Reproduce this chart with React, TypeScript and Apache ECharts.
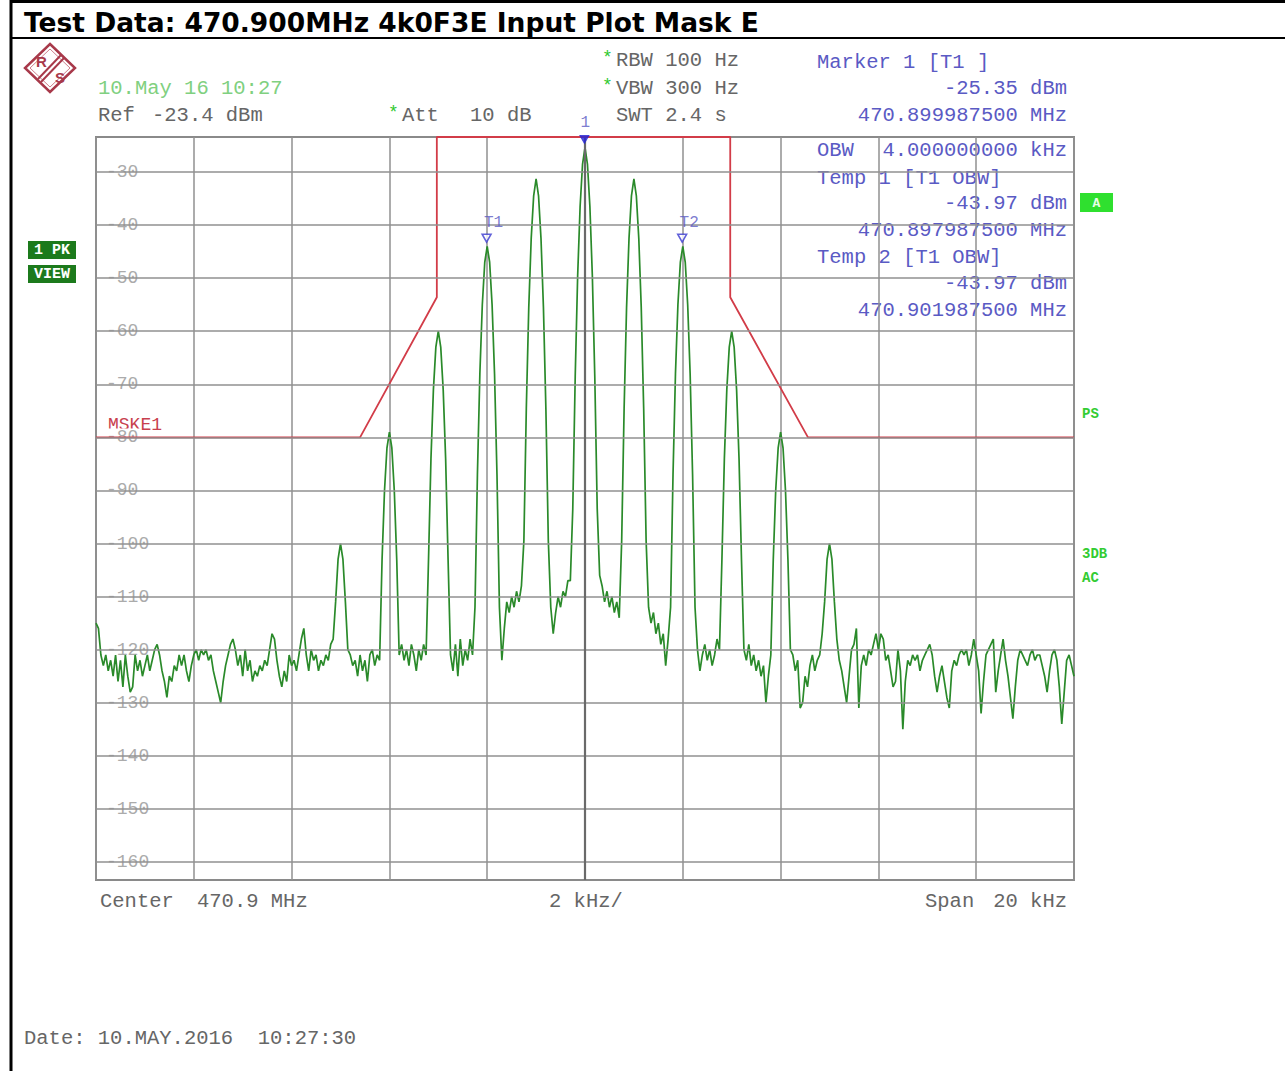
import React, { useEffect, useRef } from "react";
import * as echarts from "echarts";

// Sweep: -10 kHz .. +10 kHz around 470.9 MHz, one point every 0.05 kHz
const sweepStartKHz = -10;
const sweepStepKHz = 0.05;

// Trace 1 (dBm)
const traceA = [
  -115, -116, -121, -123, -121, -124, -122, -125, -121, -126,
  -122, -127, -121, -125, -128, -127, -121, -124, -122, -125,
  -123, -121, -124, -122, -120, -119, -121, -124, -126, -129,
  -125, -126, -123, -124, -121, -123, -121, -124, -126, -123,
  -121, -120, -122, -120, -121, -120, -122, -121, -124, -126,
];
const traceB = [
  -128, -130, -126, -123, -121, -119, -118, -120, -123, -121,
  -125, -120, -124, -122, -126, -124, -125, -123, -124, -122,
  -123, -120, -117, -118, -122, -125, -127, -124, -126, -121,
  -123, -122, -124, -121, -118, -116, -121, -124, -120, -122,
  -121, -124, -122, -123, -121, -122, -119, -118, -111, -103,
];
const traceC = [
  -100, -103, -111, -120, -121, -123, -122, -125, -121, -124,
  -122, -126, -121, -120, -123, -121, -122, -103, -90, -82,
  -79, -82, -90, -103, -121, -119, -122, -120, -123, -119,
  -121, -124, -120, -122, -119, -121, -103, -84, -71, -63,
  -60, -63, -71, -84, -103, -121, -124, -119, -125, -118,
];
const traceD = [
  -123, -120, -122, -118, -121, -112, -87, -68, -55, -47,
  -44, -47, -55, -68, -87, -112, -122, -116, -111, -113,
  -110, -112, -109, -111, -108, -99.5, -74.5, -55.5, -42.5, -34.5,
  -31.3, -34.5, -42.5, -55.5, -74.5, -99.5, -112, -117, -113, -110,
  -112, -109, -110, -107, -107, -93.5, -68.5, -49.5, -36.5, -28.5,
];
const traceE = [
  -25.35, -28.5, -36.5, -49.5, -68.5, -93.5, -106, -108, -111, -109,
  -112, -110, -113, -111, -114, -99.5, -74.5, -55.5, -42.5, -34.5,
  -31.3, -34.5, -42.5, -55.5, -74.5, -99.5, -112, -115, -113, -117,
  -115, -119, -117, -123, -118, -112, -87, -68, -55, -47,
  -44, -47, -55, -68, -87, -112, -120, -124, -121, -119,
];
const traceF = [
  -122, -120, -123, -121, -118, -120, -103, -84, -71, -63,
  -60, -63, -71, -84, -103, -120, -122, -119, -123, -121,
  -124, -122, -125, -123, -130, -125, -121, -103, -90, -82,
  -79, -82, -90, -103, -120, -121, -124, -122, -131, -130,
  -125, -127, -123, -121, -124, -122, -121, -117, -111, -103,
];
const traceG = [
  -100, -103, -111, -118, -122, -124, -127, -130, -125, -120,
  -119, -116, -131, -123, -121, -123, -120, -121, -119, -117,
  -120, -117, -118, -122, -121, -124, -127, -126, -120, -124,
  -135, -126, -122, -123, -121, -122, -121, -124, -122, -121,
  -120, -119, -121, -125, -128, -125, -123, -126, -129, -131,
];
const traceH = [
  -124, -122, -123, -121, -120, -121, -120, -123, -121, -118,
  -121, -124, -132, -126, -121, -120, -119, -118, -128, -124,
  -121, -118, -122, -125, -129, -133, -127, -122, -120, -121,
  -122, -123, -121, -120, -122, -121, -121, -123, -125, -128,
  -124, -121, -120, -122, -127, -134, -128, -122, -121, -123,
  -125,
];

// Limit line MSKE1
const maskKHz = [-10, -4.6, -3.03, -3.03, 2.97, 2.97, 4.56, 10];
const maskDbm = [-80, -80, -53.6, -23.4, -23.4, -53.6, -80, -80];

// Markers
const markerNames = ["1", "T1", "T2"];
const markerKHz = [-0.0125, -2.0125, 1.9875];
const markerDbm = [-25.35, -43.97, -43.97];

// Level axis ticks (dBm)
const yTicks = [-30, -40, -50, -60, -70, -80, -90, -100, -110, -120, -130, -140, -150, -160];
const refLevel = -23.4;
const bottomLevel = -163.4;

const MONO = "'Liberation Mono', 'DejaVu Sans Mono', monospace";
const GRAY = "#666666";
const BLUE = "#5a5ac4";
const LGREEN = "#80d080";
const STAR = "#2ec82e";
const LOGO = "#a8394a";

function txt(x: number, y: number, text: string, fill: string, opts: any = {}) {
  return {
    type: "text",
    x,
    y,
    silent: true,
    style: {
      text,
      fill,
      fontFamily: opts.fontFamily || MONO,
      fontSize: opts.fontSize || 20.5,
      fontWeight: opts.fontWeight || "normal",
      align: opts.align || "left",
      textAlign: opts.align || "left",
      verticalAlign: "middle",
      textVerticalAlign: "middle",
    },
  };
}

export default function App() {
  const ref = useRef<HTMLDivElement>(null);

  useEffect(() => {
    if (!ref.current) return;
    const chart = echarts.init(ref.current, undefined, { renderer: "svg" });

    const trace = [
      ...traceA, ...traceB, ...traceC, ...traceD,
      ...traceE, ...traceF, ...traceG, ...traceH,
    ];
    const traceData = trace.map((v, i) => [
      Math.round((sweepStartKHz + i * sweepStepKHz) * 1000) / 1000,
      v,
    ]);
    const maskData = maskKHz.map((f, i) => [f, maskDbm[i]]);
    const markerData = markerNames.map((n, i) => ({
      name: n,
      value: [markerKHz[i], markerDbm[i]],
      itemStyle:
        i === 0
          ? { color: "#2626d6", borderColor: "#2626d6", borderWidth: 1 }
          : { color: "#ffffff", borderColor: "#3a3ad0", borderWidth: 1.5 },
      label: { offset: i === 0 ? [1, -2] : [7, 0] },
    }));

    const graphic: any[] = [
      // page frame
      { type: "line", silent: true, shape: { x1: 10, y1: 1.5, x2: 1285, y2: 1.5 }, style: { stroke: "#000", lineWidth: 3 } },
      { type: "line", silent: true, shape: { x1: 11, y1: 0, x2: 11, y2: 1071 }, style: { stroke: "#000", lineWidth: 3 } },
      { type: "line", silent: true, shape: { x1: 10, y1: 38, x2: 1285, y2: 38 }, style: { stroke: "#000", lineWidth: 2 } },
      txt(24, 22, "Test Data: 470.900MHz 4k0F3E Input Plot Mask E", "#000", {
        fontFamily: "'DejaVu Sans', sans-serif",
        fontWeight: "bold",
        fontSize: 26.5,
      }),
      // R&S logo
      { type: "polygon", silent: true, shape: { points: [[50, 44], [75, 68], [50, 92], [25, 68]] }, style: { fill: "none", stroke: LOGO, lineWidth: 2.5 } },
      { type: "polygon", silent: true, shape: { points: [[50, 49], [70, 68], [50, 87], [30, 68]] }, style: { fill: "none", stroke: "#c0606e", lineWidth: 0.8 } },
      { type: "line", silent: true, shape: { x1: 38, y1: 79, x2: 61, y2: 55 }, style: { stroke: LOGO, lineWidth: 2 } },
      { type: "line", silent: true, shape: { x1: 41, y1: 82, x2: 64, y2: 58 }, style: { stroke: LOGO, lineWidth: 2 } },
      txt(36, 61, "R", LOGO, { fontFamily: "'Liberation Sans', sans-serif", fontSize: 15, fontWeight: "bold" }),
      txt(55, 77, "S", LOGO, { fontFamily: "'Liberation Sans', sans-serif", fontSize: 15, fontWeight: "bold" }),
      // header texts
      txt(98, 88, "10.May 16 10:27", LGREEN),
      txt(98, 115, "Ref", GRAY),
      txt(152, 115, "-23.4 dBm", GRAY),
      txt(388, 113, "*", STAR, { fontSize: 18 }),
      txt(402, 115, "Att", GRAY),
      txt(470, 115, "10 dB", GRAY),
      txt(602, 58, "*", STAR, { fontSize: 18 }),
      txt(616, 60, "RBW 100 Hz", GRAY),
      txt(602, 86, "*", STAR, { fontSize: 18 }),
      txt(616, 88, "VBW 300 Hz", GRAY),
      txt(616, 115, "SWT 2.4 s", GRAY),
      txt(817, 62, "Marker 1 [T1 ]", BLUE),
      txt(1067, 88, "-25.35 dBm", BLUE, { align: "right" }),
      txt(1067, 115, "470.899987500 MHz", BLUE, { align: "right" }),
      // marker info inside the plot
      txt(817, 150, "OBW", BLUE),
      txt(1067, 150, "4.000000000 kHz", BLUE, { align: "right" }),
      txt(817, 178, "Temp 1 [T1 OBW]", BLUE),
      txt(1067, 203, "-43.97 dBm", BLUE, { align: "right" }),
      txt(1067, 230, "470.897987500 MHz", BLUE, { align: "right" }),
      txt(817, 257, "Temp 2 [T1 OBW]", BLUE),
      txt(1067, 283, "-43.97 dBm", BLUE, { align: "right" }),
      txt(1067, 310, "470.901987500 MHz", BLUE, { align: "right" }),
      // left status boxes
      { type: "rect", silent: true, shape: { x: 28, y: 241, width: 48, height: 18 }, style: { fill: "#1c7a1c" } },
      txt(52, 250.5, "1 PK", "#ffffff", { align: "center", fontSize: 15, fontWeight: "bold" }),
      { type: "rect", silent: true, shape: { x: 28, y: 265, width: 48, height: 18 }, style: { fill: "#1c7a1c" } },
      txt(52, 274.5, "VIEW", "#ffffff", { align: "center", fontSize: 15, fontWeight: "bold" }),
      // right status indicators
      { type: "rect", silent: true, shape: { x: 1080, y: 193, width: 33, height: 19 }, style: { fill: "#2fe02f" } },
      txt(1096.5, 203, "A", "#e8ffe8", { align: "center", fontSize: 13, fontWeight: "bold" }),
      txt(1082, 414, "PS", "#33cc33", { fontSize: 14, fontWeight: "bold" }),
      txt(1082, 554, "3DB", "#33cc33", { fontSize: 14, fontWeight: "bold" }),
      txt(1082, 578, "AC", "#33cc33", { fontSize: 14, fontWeight: "bold" }),
      // mask label
      txt(108, 425, "MSKE1", "#c8404e", { fontSize: 18 }),
      // footer
      txt(100, 901, "Center", GRAY),
      txt(197, 901, "470.9 MHz", GRAY),
      txt(549, 901, "2 kHz/", GRAY),
      txt(925, 901, "Span", GRAY),
      txt(1067, 901, "20 kHz", GRAY, { align: "right" }),
      txt(24, 1038, "Date: 10.MAY.2016  10:27:30", GRAY),
    ];

    chart.setOption({
      animation: false,
      backgroundColor: "#ffffff",
      grid: {
        left: 96,
        top: 137,
        width: 978,
        height: 743,
        show: true,
        borderColor: "#8a8a8a",
        borderWidth: 2,
        backgroundColor: "transparent",
      },
      xAxis: {
        type: "value",
        min: -10,
        max: 10,
        interval: 2,
        axisLabel: { show: false },
        axisTick: { show: false },
        axisLine: { show: false },
        splitLine: { show: true, lineStyle: { color: "#909090", width: 1.5 } },
      },
      yAxis: {
        type: "value",
        min: bottomLevel,
        max: refLevel,
        axisLine: { show: false },
        axisTick: { show: false },
        splitLine: { show: false },
        axisLabel: {
          inside: true,
          customValues: yTicks,
          margin: 8,
          color: "#ababab",
          fontFamily: MONO,
          fontSize: 18,
          backgroundColor: "#ffffff",
          padding: [0, 2],
          formatter: (v: number) => String(v),
        },
      },
      graphic,
      series: [
        {
          name: "grid",
          type: "line",
          data: [],
          silent: true,
          z: 1,
          markLine: {
            silent: true,
            symbol: "none",
            label: { show: false },
            lineStyle: { color: "#909090", width: 1.5, type: "solid" },
            data: [
              ...yTicks.map((v) => ({ yAxis: v })),
              { xAxis: 0, lineStyle: { color: "#6a6a6a", width: 2.2, type: "solid" } },
            ],
          },
        },
        {
          name: "Trace 1",
          type: "line",
          data: traceData,
          showSymbol: false,
          symbol: "none",
          z: 3,
          lineStyle: { color: "#2a8a2a", width: 1.7 },
        },
        {
          name: "MSKE1",
          type: "line",
          data: maskData,
          showSymbol: false,
          symbol: "none",
          z: 4,
          lineStyle: { color: "#d23c48", width: 1.8 },
        },
        {
          name: "Markers",
          type: "scatter",
          data: markerData,
          z: 5,
          symbol: "triangle",
          symbolRotate: 180,
          symbolSize: [9, 8],
          symbolOffset: [0, -8],
          label: {
            show: true,
            position: "top",
            distance: 2,
            formatter: "{b}",
            color: BLUE,
            fontFamily: MONO,
            fontSize: 16,
          },
        },
      ],
    });

    return () => chart.dispose();
  }, []);

  return (
    <div
      ref={ref}
      style={{ position: "absolute", left: 0, top: 0, width: 1285, height: 1071 }}
    />
  );
}
